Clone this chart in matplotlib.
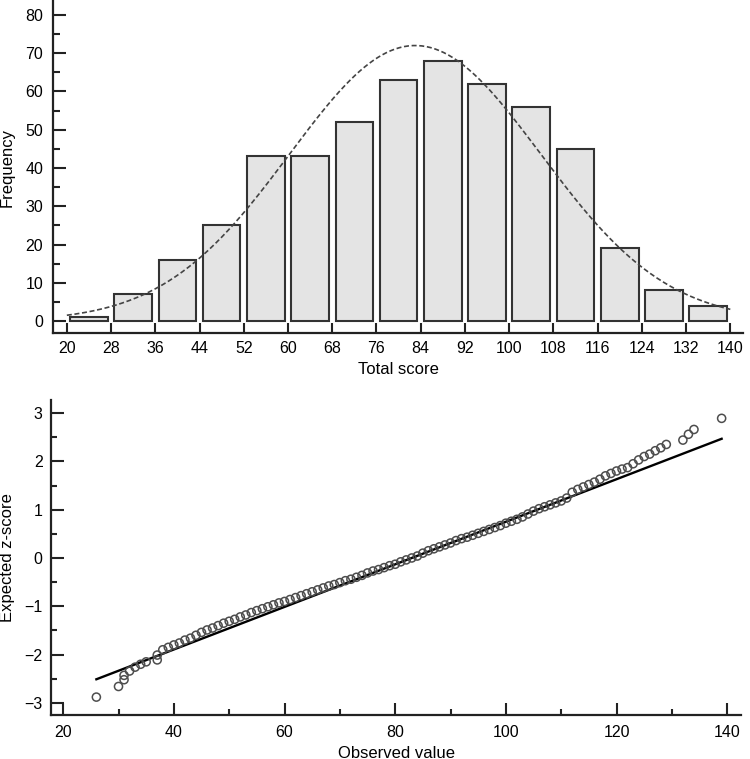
import numpy as np
import matplotlib
matplotlib.use("Agg")
import matplotlib.pyplot as plt
from matplotlib.ticker import MultipleLocator

plt.rcParams['font.family'] = ['Liberation Sans', 'DejaVu Sans']

# histogram of total score (bin edges 20..140, width 8)
bin_edges = [20, 28, 36, 44, 52, 60, 68, 76, 84, 92, 100, 108, 116, 124, 132, 140]
counts = [1, 7, 16, 25, 43, 43, 52, 63, 68, 62, 56, 45, 19, 8, 4]
score_mean = 83.0
score_sd = 22.7

# normal Q-Q plot points (observed value, expected z-score)
obs_x = [26, 30, 31, 31, 32, 33, 34, 35, 37, 37,
         38, 39, 40, 41, 42, 43, 44, 45, 46, 47, 48, 49, 50, 51, 52, 53, 54, 55,
         56, 57, 58, 59, 60, 61, 62, 63, 64, 65, 66, 67, 68, 69, 70, 71, 72, 73,
         74, 75, 76, 77, 78, 79, 80, 81, 82, 83, 84, 85, 86, 87, 88, 89, 90, 91,
         92, 93, 94, 95, 96, 97, 98, 99, 100, 101, 102, 103, 104, 105, 106, 107,
         108, 109, 110, 111, 112, 113, 114, 115, 116, 117, 118, 119, 120, 121,
         122, 123, 124, 125, 126, 127, 128, 129, 132, 133, 134, 139]
exp_z = [-2.88, -2.66, -2.52, -2.43, -2.34, -2.26, -2.20, -2.15, -2.01, -2.11,
         -1.90, -1.85, -1.80, -1.76, -1.70, -1.66, -1.60, -1.54, -1.49, -1.45,
         -1.40, -1.35, -1.31, -1.27, -1.22, -1.18, -1.13, -1.09, -1.05, -1.01,
         -0.97, -0.93, -0.90, -0.86, -0.82, -0.78, -0.74, -0.70, -0.66, -0.62,
         -0.58, -0.55, -0.51, -0.47, -0.44, -0.40, -0.36, -0.31, -0.27, -0.24,
         -0.20, -0.16, -0.13, -0.08, -0.04, 0.00, 0.04, 0.10, 0.15, 0.19, 0.23,
         0.27, 0.31, 0.36, 0.40, 0.43, 0.47, 0.51, 0.55, 0.59, 0.63, 0.67, 0.72,
         0.76, 0.80, 0.85, 0.91, 0.97, 1.02, 1.06, 1.10, 1.14, 1.18, 1.24, 1.36,
         1.42, 1.47, 1.52, 1.57, 1.63, 1.70, 1.75, 1.80, 1.84, 1.87, 1.95, 2.03,
         2.10, 2.15, 2.22, 2.28, 2.35, 2.44, 2.56, 2.66, 2.89]

SPINE = "#222222"
TICK_FS = 11.5
LABEL_FS = 12


def style_axes(ax):
    for s in ("top", "right"):
        ax.spines[s].set_visible(False)
    for s in ("left", "bottom"):
        ax.spines[s].set_linewidth(1.6)
        ax.spines[s].set_color(SPINE)
    ax.tick_params(which="both", direction="in", colors=SPINE, labelcolor="black",
                   labelsize=TICK_FS, width=1.5)


fig = plt.figure(figsize=(7.5, 7.59), dpi=100)

# --- histogram ---
ax1 = fig.add_axes([0.0707, 0.5613, 0.92, 0.4373])
style_axes(ax1)
edges = np.array(bin_edges)
mids = (edges[:-1] + edges[1:]) / 2
ax1.bar(mids, counts, width=6.8, color="#e4e4e4", edgecolor="#333333",
        linewidth=1.5, zorder=2)
xs = np.linspace(20, 140, 300)
binw = edges[1] - edges[0]
ys = sum(counts) * binw / (score_sd * np.sqrt(2 * np.pi)) * \
    np.exp(-0.5 * ((xs - score_mean) / score_sd) ** 2)
ax1.plot(xs, ys, color="#444444", linewidth=1.2, dashes=(3, 1.6), zorder=3)
ax1.set_xlim(17.5, 142.3)
ax1.set_ylim(-3.1, 83.6)
ax1.set_xticks(bin_edges)
ax1.yaxis.set_major_locator(MultipleLocator(10))
ax1.yaxis.set_minor_locator(MultipleLocator(5))
ax1.set_yticks(range(0, 81, 10))
ax1.tick_params(axis="y", which="major", length=9, pad=7)
ax1.tick_params(axis="y", which="minor", length=5)
ax1.tick_params(axis="x", which="major", length=7.5, pad=6)
ax1.set_xlabel("Total score", fontsize=LABEL_FS)
ax1.set_ylabel("Frequency", fontsize=LABEL_FS)
ax1.xaxis.set_label_coords(0.5, -0.088)
ax1.yaxis.set_label_coords(-0.056, 0.5)

# --- Q-Q plot ---
ax2 = fig.add_axes([0.068, 0.058, 0.92, 0.415])
style_axes(ax2)
line_x = np.array([min(obs_x), max(obs_x)])
ax2.plot(line_x, (line_x - score_mean) / score_sd, color="black", linewidth=1.7,
         zorder=2)
ax2.scatter(obs_x, exp_z, s=34, facecolors="none", edgecolors="#4d4d4d",
            linewidths=1.1, zorder=3)
ax2.set_xlim(17.8, 142.5)
ax2.set_ylim(-3.25, 3.27)
ax2.xaxis.set_major_locator(MultipleLocator(20))
ax2.xaxis.set_minor_locator(MultipleLocator(10))
ax2.yaxis.set_major_locator(MultipleLocator(1))
ax2.yaxis.set_minor_locator(MultipleLocator(0.5))
ax2.set_xticks(range(20, 141, 20))
ax2.set_yticks(range(-3, 4))
ax2.tick_params(which="major", length=9)
ax2.tick_params(which="minor", length=4.5)
ax2.tick_params(axis="y", pad=6)
ax2.tick_params(axis="x", pad=7)
ax2.set_xlabel("Observed value", fontsize=LABEL_FS)
ax2.set_ylabel("Expected z-score", fontsize=LABEL_FS)
ax2.xaxis.set_label_coords(0.5, -0.097)
ax2.yaxis.set_label_coords(-0.052, 0.5)

fig.savefig("out.png", dpi=100)
